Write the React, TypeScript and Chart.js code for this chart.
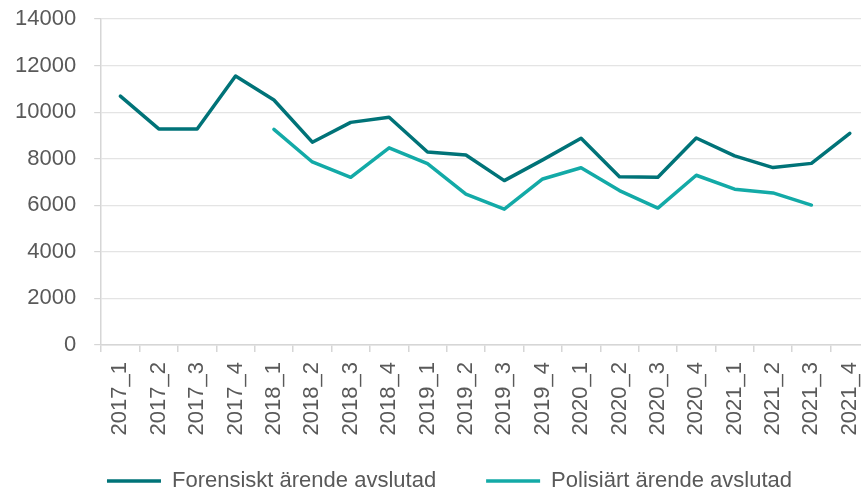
import React, { useEffect, useRef } from "react";
import { Chart, registerables } from "chart.js";

Chart.register(...registerables);

const categories = [
  "2017_1", "2017_2", "2017_3", "2017_4",
  "2018_1", "2018_2", "2018_3", "2018_4",
  "2019_1", "2019_2", "2019_3", "2019_4",
  "2020_1", "2020_2", "2020_3", "2020_4",
  "2021_1", "2021_2", "2021_3", "2021_4",
];

const forensiskt = [
  10690, 9280, 9280, 11550,
  10520, 8710, 9560, 9780,
  8290, 8160, 7060, 7950,
  8880, 7230, 7200, 8890,
  8120, 7620, 7800, 9090,
];

const polisiart = [
  null, null, null, null,
  9260, 7860, 7200, 8470,
  7790, 6480, 5830, 7130,
  7610, 6630, 5880, 7290,
  6690, 6530, 6010, null,
];

const seriesNames = ["Forensiskt ärende avslutad", "Polisiärt ärende avslutad"];
const seriesColors = ["#007378", "#13aaa7"];

const yMin = 0;
const yMax = 14000;
const yStep = 2000;

const FONT = "'Liberation Sans', Arial, Helvetica, sans-serif";
const TEXT = "#595959";

const W = 869;
const H = 520;

const legendPlace = {
  id: "legendPlace",
  afterLayout(chart: any) {
    const l = chart.legend;
    if (!l) return;
    const h = l.bottom - l.top;
    l.top = 420;
    l.bottom = 420 + h;
    l.left = 30;
    l.right = 869;
  },
};

export default function App() {
  const ref = useRef<HTMLCanvasElement | null>(null);

  useEffect(() => {
    document.body.style.overflow = "hidden";
    const canvas = ref.current;
    if (!canvas) return;
    const chart = new Chart(canvas, {
      type: "line",
      data: {
        labels: categories,
        datasets: [
          {
            label: seriesNames[0],
            data: forensiskt,
            borderColor: seriesColors[0],
            backgroundColor: seriesColors[0],
            borderWidth: 3.5,
            borderCapStyle: "round",
            borderJoinStyle: "round",
            pointRadius: 0,
            tension: 0,
            spanGaps: false,
          },
          {
            label: seriesNames[1],
            data: polisiart,
            borderColor: seriesColors[1],
            backgroundColor: seriesColors[1],
            borderWidth: 3.5,
            borderCapStyle: "round",
            borderJoinStyle: "round",
            pointRadius: 0,
            tension: 0,
            spanGaps: false,
          },
        ],
      },
      plugins: [legendPlace],
      options: {
        responsive: false,
        animation: false,
        devicePixelRatio: 1,
        layout: { padding: { left: 15, right: 0, top: 19, bottom: 0 } },
        plugins: {
          tooltip: { enabled: false },
          legend: {
            position: "bottom",
            labels: {
              usePointStyle: true,
              pointStyle: "line",
              pointStyleWidth: 54,
              padding: 50,
              color: TEXT,
              font: { family: FONT, size: 22 },
            },
          },
        },
        scales: {
          x: {
            offset: true,
            grid: {
              offset: true,
              drawOnChartArea: false,
              drawTicks: true,
              tickLength: 7,
              color: "#d6d6d6",
              lineWidth: 1.5,
            },
            border: { color: "#d6d6d6", width: 1.5 },
            ticks: {
              autoSkip: false,
              maxRotation: 90,
              minRotation: 90,
              padding: 10,
              color: TEXT,
              font: { family: FONT, size: 22 },
            },
            afterFit: (scale: any) => {
              scale.height = 93;
              scale.paddingLeft = 0;
              scale.paddingRight = 0;
            },
          },
          y: {
            min: yMin,
            max: yMax,
            grid: {
              color: "#e4e4e4",
              lineWidth: 1.2,
              drawTicks: true,
              tickLength: 7,
              tickColor: "#d6d6d6",
            },
            border: { color: "#d6d6d6", width: 1.5 },
            ticks: {
              stepSize: yStep,
              padding: 18,
              color: TEXT,
              font: { family: FONT, size: 22 },
              callback: (v: any) => String(v),
            },
            afterFit: (scale: any) => {
              scale.width = scale.width - 18;
              scale.paddingTop = 0;
              scale.paddingBottom = 0;
            },
          },
        },
      },
    });
    return () => chart.destroy();
  }, []);

  return (
    <div style={{ position: "fixed", left: 0, top: 0, width: W, height: H, background: "#fff" }}>
      <canvas ref={ref} width={W} height={H} style={{ display: "block" }} />
    </div>
  );
}
